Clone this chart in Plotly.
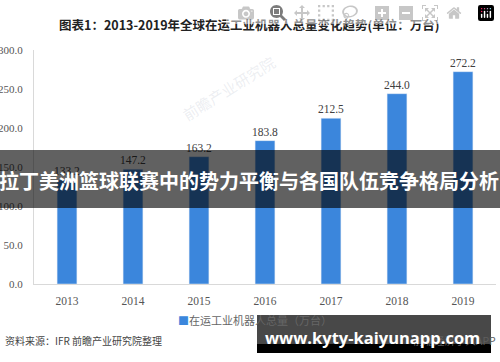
import plotly.graph_objects as go

years = ["2013", "2014", "2015", "2016", "2017", "2018", "2019"]
robots = [133.2, 147.2, 163.2, 183.8, 212.5, 244.0, 272.2]
y_ticks = [0, 50, 100, 150, 200, 250, 300]
series_name = "在运工业机器人总量（万台）"
title_text = "图表1：2013-2019年全球在运工业机器人总量变化趋势(单位：万台)"
banner_text = "拉丁美洲篮球联赛中的势力平衡与各国队伍竞争格局分析"
source_text = "资料来源：IFR 前瞻产业研究院整理"
hidden_text = "前瞻经济学人APP"
site_text = "www.kyty-kaiyunapp.com"

W, H = 500, 362
L, R, T, B = 34, 4, 50, 78
pw, ph = W - L - R, H - T - B

def px(x):
    return (x - L) / pw

def py(y):
    return (H - B - y) / ph

CJK = "Noto Sans CJK SC"
SERIF = "Liberation Serif"
BLUE = "#3b86dc"

fig = go.Figure()
fig.add_trace(go.Bar(
    x=years, y=robots, name=series_name, marker_color=BLUE, width=0.3,
    text=[f"{v:.1f}" for v in robots], textposition="outside",
    textfont=dict(family=SERIF, size=11.5, color="#404040"),
    cliponaxis=False, constraintext="none",
))

fig.update_layout(
    width=W, height=H, margin=dict(l=L, r=R, t=T, b=B, autoexpand=False),
    paper_bgcolor="white", plot_bgcolor="white", showlegend=False,
    xaxis=dict(showgrid=False, showline=True, linecolor="#d9d9d9", linewidth=1,
               tickfont=dict(family=SERIF, size=11.5, color="#555"), ticks="",
               ticklabelstandoff=6, automargin=False),
    yaxis=dict(range=[0, 300], tickvals=y_ticks, tickformat=".1f", showgrid=False,
               zeroline=False, showline=True, linecolor="#d9d9d9", linewidth=1,
               tickfont=dict(family=SERIF, size=11, color="#555"), ticks="",
               ticklabelstandoff=8, automargin=False),
)

def note(text, x, y, xanchor="center", yanchor="middle", **kw):
    return dict(text=text, x=px(x), y=py(y), xref="paper", yref="paper",
                xanchor=xanchor, yanchor=yanchor, showarrow=False, **kw)

ann = [
    note(f"<b>{title_text}</b>", 248.5, 25, font=dict(family=CJK, size=12.5, color="#222")),
    note("前瞻产业研究院", 228, 88, textangle=-32,
         font=dict(family=CJK, size=15, color="rgba(170,180,195,0.22)")),
    note(f"<span style='color:{BLUE}'>■</span>{series_name}", 176, 320, xanchor="left",
         font=dict(family=CJK, size=11, color="#666")),
    note(source_text, 3, 340, xanchor="left", font=dict(family=CJK, size=10, color="#444")),
    note(hidden_text, 498, 340, xanchor="right", font=dict(family=CJK, size=10.5, color="#5e5e5e")),
    note(f"<b>{site_text}</b>", 372, 337, font=dict(family="Open Sans", size=16.5, color="white")),
    note(f"<b>{banner_text}</b>", 249, 180, font=dict(family=CJK, size=20, color="white")),
]
fig.update_layout(annotations=ann)

fig.add_shape(type="rect", xref="paper", yref="paper", x0=px(0), x1=px(500), y0=py(150), y1=py(208),
              fillcolor="rgba(0,0,0,0.62)", line_width=0, layer="above")
fig.add_shape(type="rect", xref="paper", yref="paper", x0=px(257), x1=px(491), y0=py(315), y1=py(344),
              fillcolor="rgba(72,72,72,1)", line_width=0, layer="above")
fig.add_shape(type="rect", xref="paper", yref="paper", x0=px(257), x1=px(491), y0=py(344), y1=py(353),
              fillcolor="#000000", line_width=0, layer="above")

fig.write_html("out.html", post_script="document.body.style.margin='0';document.body.style.overflow='hidden';")
